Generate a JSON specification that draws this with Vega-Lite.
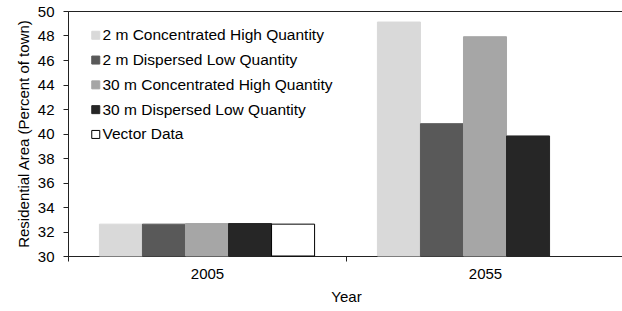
{
  "$schema": "https://vega.github.io/schema/vega-lite/v6.json",
  "autosize": {"type": "none"},
  "padding": {"left": 68, "top": 11, "right": 0, "bottom": 55},
  "width": 556,
  "height": 245,
  "background": "#ffffff",
  "config": {
    "font": "Liberation Sans",
    "view": {"stroke": "#222222", "strokeWidth": 1},
    "axis": {"labelFont": "Liberation Sans", "titleFont": "Liberation Sans", "labelColor": "#000", "titleColor": "#000", "domainColor": "#222", "tickColor": "#222", "labelFontSize": 15, "titleFontSize": 15, "titleFontWeight": "normal", "grid": false}
  },
  "data": {
    "values": [
      {"Year": "2005", "Series": "2 m Concentrated High Quantity", "Value": 32.6},
      {"Year": "2005", "Series": "2 m Dispersed Low Quantity", "Value": 32.6},
      {"Year": "2005", "Series": "30 m Concentrated High Quantity", "Value": 32.65},
      {"Year": "2005", "Series": "30 m Dispersed Low Quantity", "Value": 32.65},
      {"Year": "2005", "Series": "Vector Data", "Value": 32.6},
      {"Year": "2055", "Series": "2 m Concentrated High Quantity", "Value": 49.1},
      {"Year": "2055", "Series": "2 m Dispersed Low Quantity", "Value": 40.8},
      {"Year": "2055", "Series": "30 m Concentrated High Quantity", "Value": 47.9},
      {"Year": "2055", "Series": "30 m Dispersed Low Quantity", "Value": 39.8}
    ]
  },
  "mark": {"type": "bar", "strokeWidth": 1},
  "encoding": {
    "x": {
      "field": "Year", "type": "nominal",
      "scale": {"paddingInner": 0, "paddingOuter": 0},
      "axis": {"title": "Year", "labelAngle": 0, "tickBand": "extent", "tickSize": 5, "labelPadding": 5, "titlePadding": 8}
    },
    "xOffset": {
      "field": "Series", "type": "nominal",
      "scale": {"domain": ["2 m Concentrated High Quantity", "2 m Dispersed Low Quantity", "30 m Concentrated High Quantity", "30 m Dispersed Low Quantity", "Vector Data"], "paddingInner": 0, "paddingOuter": 0.73}
    },
    "y": {
      "field": "Value", "type": "quantitative",
      "scale": {"domain": [30, 50], "zero": false, "nice": false},
      "axis": {"title": "Residential Area (Percent of town)", "values": [30, 32, 34, 36, 38, 40, 42, 44, 46, 48, 50], "tickSize": 5, "labelPadding": 9, "titlePadding": 6}
    },
    "y2": {"datum": 30},
    "color": {
      "field": "Series", "type": "nominal",
      "scale": {"domain": ["2 m Concentrated High Quantity", "2 m Dispersed Low Quantity", "30 m Concentrated High Quantity", "30 m Dispersed Low Quantity", "Vector Data"], "range": ["#d9d9d9", "#595959", "#a6a6a6", "#262626", "#ffffff"]},
      "legend": {"title": null, "orient": "none", "legendX": 20, "legendY": 16.5, "symbolType": "square", "symbolSize": 64, "symbolStrokeWidth": 1, "labelFontSize": 15.5, "labelFont": "Liberation Sans", "labelColor": "#000", "labelOffset": -1, "labelLimit": 0, "rowPadding": 7.8, "padding": 0}
    },
    "stroke": {
      "field": "Series", "type": "nominal",
      "scale": {"domain": ["2 m Concentrated High Quantity", "2 m Dispersed Low Quantity", "30 m Concentrated High Quantity", "30 m Dispersed Low Quantity", "Vector Data"], "range": ["#d9d9d9", "#595959", "#a6a6a6", "#262626", "#000000"]},
      "legend": {"title": null, "orient": "none", "legendX": 20, "legendY": 16.5, "symbolType": "square", "symbolSize": 64, "symbolStrokeWidth": 1, "labelFontSize": 15.5, "labelFont": "Liberation Sans", "labelColor": "#000", "labelOffset": -1, "labelLimit": 0, "rowPadding": 7.8, "padding": 0}
    }
  }
}
